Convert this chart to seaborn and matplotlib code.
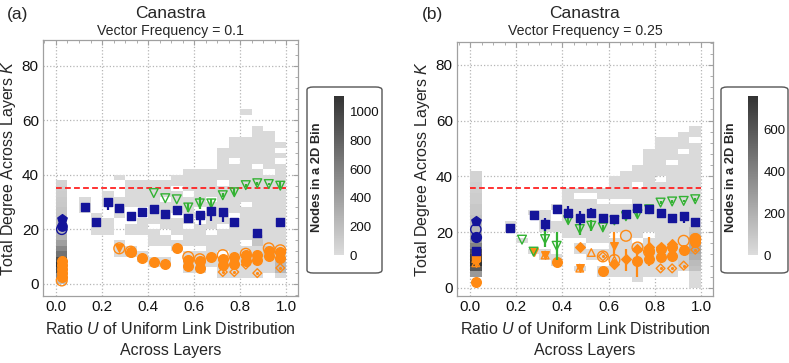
import numpy as np
import matplotlib
matplotlib.use("Agg")
import matplotlib.pyplot as plt
import seaborn as sns
from matplotlib.colors import LinearSegmentedColormap
from matplotlib.patches import FancyBboxPatch
from matplotlib.ticker import MultipleLocator

sns.set_style("white")
plt.rcParams['font.family'] = ['Liberation Sans', 'DejaVu Sans']
plt.rcParams['mathtext.fontset'] = 'custom'
plt.rcParams['mathtext.rm'] = 'Liberation Sans'
plt.rcParams['mathtext.it'] = 'Liberation Sans:italic'

# ------------------------------------------------------------------ data
# ---- panel (a): vector frequency 0.1
A_THRESH = 35.3
A_BLUE_X = [0.125, 0.175, 0.225, 0.275, 0.325, 0.375, 0.425, 0.475, 0.525, 0.575, 0.625, 0.675, 0.725, 0.775, 0.875, 0.975]
A_BLUE_Y = [28.3, 22.8, 30.0, 27.8, 24.7, 26.5, 27.5, 25.7, 26.9, 24.3, 25.2, 26.6, 26.3, 22.5, 18.8, 22.5]
A_BLUE_LO = [0, 0, 3, 1.5, 1.5, 1.5, 1.5, 2, 1.5, 1.5, 3.5, 3.5, 3.5, 0, 0, 0]
A_BLUE_HI = [0, 0, 1.5, 0.5, 0.5, 1, 0.5, 1, 0.5, 1, 1, 1.5, 1, 0, 0, 0]
A_BLUE0_Y = [23.6, 21.3, 20.0]          # pentagon, filled circle, open circle at U=0.025

A_GREEN_X = [0.425, 0.475, 0.525, 0.575, 0.625, 0.675, 0.725, 0.775, 0.825, 0.875, 0.925, 0.975]
A_GREEN_Y = [33.3, 31.4, 31.0, 28.0, 29.5, 29.5, 32.5, 33.6, 36.2, 36.9, 36.6, 36.0]
A_GREEN_LO = [0, 0, 0, 1.5, 2, 1.5, 0.5, 1, 0.5, 0.5, 0.5, 1]
A_GREEN_HI = [0, 0, 0, 1.5, 2.5, 1.5, 1, 1.5, 0.5, 0.5, 0.5, 1.5]

A_OFILL_X = [0.025, 0.025, 0.025, 0.025, 0.025, 0.325, 0.375, 0.425, 0.475, 0.525, 0.575, 0.575,
             0.625, 0.625, 0.675, 0.725, 0.725, 0.775, 0.775, 0.825, 0.825, 0.875, 0.875, 0.925, 0.925, 0.975, 0.975]
A_OFILL_Y = [2.5, 4.0, 5.5, 7.0, 8.5, 11.5, 9.4, 8.0, 7.3, 13.3, 8.8, 6.5,
             8.2, 5.8, 9.7, 9.2, 6.8, 9.8, 7.2, 10.5, 8.5, 10.5, 8.8, 12.2, 10.2, 11.5, 9.4]
A_OOPEN_X = [0.025, 0.275, 0.325, 0.575, 0.625, 0.725, 0.825, 0.925, 0.975]
A_OOPEN_Y = [1.2, 13.0, 11.8, 9.8, 9.0, 10.5, 11.0, 13.0, 12.3]
A_ODIA_X = [0.725, 0.775, 0.875, 0.975, 0.825]
A_ODIA_Y = [4.3, 4.3, 3.9, 5.8, 7.0]
A_OTRI_X = [0.275]
A_OTRI_Y = [13.0]

A_COL0_COUNTS = [200, 600, 950, 1110, 950, 700, 550, 400, 280, 250, 220, 200, 160, 150, 130, 120, 100, 90, 60]
A_COL0_START = 0
A_HIST_X = [0.125, 0.175, 0.225, 0.275, 0.325, 0.375, 0.425, 0.475, 0.525, 0.575, 0.625, 0.675,
            0.725, 0.775, 0.825, 0.875, 0.925, 0.975]
A_HIST_SEGS = [
    [(26, 32)], [(18, 26)], [(18, 24), (28, 34)], [(10, 16), (24, 32), (38, 40)],
    [(10, 14), (18, 22), (28, 38)], [(8, 12), (18, 24), (28, 38)], [(6, 10), (14, 20), (22, 38)],
    [(6, 10), (14, 18), (20, 38)], [(12, 16), (18, 24), (26, 40)], [(4, 12), (14, 20), (22, 42)],
    [(4, 12), (14, 22), (24, 42)], [(6, 18), (20, 42)], [(2, 10), (12, 50)], [(2, 54)],
    [(2, 54), (62, 64)], [(2, 58)], [(4, 56)], [(2, 52)],
]
A_LIGHT = 14
A_DARK = {(0.875, 14): 150, (0.875, 16): 120, (0.925, 10): 120, (0.925, 12): 120,
          (0.975, 4): 230, (0.975, 6): 230, (0.975, 8): 200, (0.825, 8): 80, (0.775, 6): 60}
A_GAPS = [(0.475, 30), (0.525, 34), (0.575, 32), (0.625, 26), (0.675, 30), (0.725, 20), (0.725, 36),
          (0.775, 24), (0.775, 44), (0.825, 28), (0.875, 42), (0.925, 40), (0.975, 44), (0.975, 48), (0.825, 14)]
A_CBAR_MAX = 1110
A_CBAR_TICKS = [0, 200, 400, 600, 800, 1000]

# ---- panel (b): vector frequency 0.25
B_THRESH = 35.9
B_BLUE_X = [0.025, 0.175, 0.275, 0.325, 0.375, 0.425, 0.475, 0.525, 0.575, 0.625, 0.675, 0.725, 0.775, 0.825, 0.875, 0.925, 0.975]
B_BLUE_Y = [13.3, 21.4, 26.3, 22.9, 28.2, 27.0, 25.0, 27.0, 25.0, 24.6, 26.5, 28.8, 28.2, 26.8, 24.9, 25.8, 23.7]
B_BLUE_LO = [0, 0, 0, 2.5, 0, 2, 2.5, 1.5, 1, 1, 1.5, 0.5, 1, 0.5, 0.5, 2.5, 1]
B_BLUE_HI = [0, 0, 0, 2, 0, 2.5, 2.5, 1.5, 0.5, 0.5, 1, 0.5, 0.5, 0.5, 0.5, 1.5, 0.5]
B_BLUE0_Y = [24.0, 18.1, 21.0]          # pentagon, filled circle, open circle at U=0.025

B_GREEN_X = [0.225, 0.275, 0.325, 0.375, 0.425, 0.475, 0.525, 0.575, 0.625, 0.675, 0.725, 0.775, 0.825, 0.875, 0.925, 0.975]
B_GREEN_Y = [17.3, 13.0, 17.5, 15.1, 24.3, 21.1, 22.3, 21.7, 24.2, 25.7, 26.4, 28.2, 30.6, 31.0, 31.2, 31.8]
B_GREEN_LO = [0, 0, 3, 5, 1, 2, 2, 1, 1, 1, 1, 1, 0.5, 0.5, 0.5, 0.5]
B_GREEN_HI = [0, 0, 5, 5, 1.5, 2, 2, 1, 1, 1, 1, 1, 0.5, 0.5, 0.5, 0.5]

B_OFILL_X = [0.025, 0.375, 0.575, 0.725, 0.775, 0.775, 0.825, 0.825, 0.875, 0.875, 0.925, 0.975, 0.975]
B_OFILL_Y = [2.0, 9.2, 6.2, 9.8, 10.4, 13.2, 11.0, 13.8, 11.5, 14.5, 13.6, 16.5, 18.0]
B_ODIAF_X = [0.475, 0.625, 0.675, 0.725, 0.775, 0.825, 0.875]
B_ODIAF_Y = [14.8, 8.6, 10.4, 14.0, 14.5, 14.5, 15.7]
B_ODOWN_X = [0.275, 0.625, 0.325, 0.475, 0.025, 0.025]
B_ODOWN_Y = [13.0, 15.1, 11.8, 7.1, 10.5, 9.0]
B_OUPO_X = [0.325, 0.475, 0.025, 0.025, 0.525, 0.625]
B_OUPO_Y = [11.8, 7.1, 10.5, 9.0, 12.7, 10.0]
B_OSQ_X = [0.025]
B_OSQ_Y = [11.0]
B_OOPEN_X = [0.575, 0.625, 0.675, 0.725, 0.775, 0.925, 0.975]
B_OOPEN_Y = [11.3, 10.0, 18.7, 14.5, 13.0, 16.9, 17.5]
B_ODIA_X = [0.575, 0.825, 0.875, 0.925, 0.975]
B_ODIA_Y = [11.3, 7.0, 7.0, 8.0, 13.7]
B_OERR_X = [0.625, 0.675, 0.725, 0.775]
B_OERR_Y = [15.1, 10.4, 9.8, 12.0]
B_OERR_LO = [3.6, 4.2, 6.0, 4.0]
B_OERR_HI = [5.0, 3.5, 5.3, 6.1]

B_COL0_COUNTS = [300, 600, 760, 720, 600, 400, 280, 220, 170, 140, 120, 100, 90, 70, 70, 55, 55, 40, 40]
B_COL0_START = 4
B_HIST_X = [0.175, 0.225, 0.275, 0.325, 0.375, 0.425, 0.475, 0.525, 0.575, 0.625, 0.675,
            0.725, 0.775, 0.825, 0.875, 0.925, 0.975]
B_HIST_SEGS = [
    [(20, 24)], [(16, 18)], [(12, 14), (26, 28)], [(10, 14), (20, 28)], [(8, 12), (20, 24), (28, 30)],
    [(18, 36)], [(6, 8), (12, 16), (18, 36)], [(10, 14), (16, 36)], [(4, 8), (10, 14), (16, 36)],
    [(4, 40)], [(4, 42)], [(2, 44)], [(4, 50)], [(4, 54)], [(4, 54)], [(6, 56)], [(0, 58)],
]
B_LIGHT = 9
B_DARK = {(0.975, 10): 200, (0.975, 12): 230, (0.975, 14): 230, (0.975, 16): 200, (0.975, 18): 120,
          (0.975, 20): 100, (0.975, 6): 120, (0.975, 8): 150, (0.925, 8): 60, (0.925, 10): 60,
          (0.925, 12): 60, (0.875, 10): 40}
B_GAPS = [(0.475, 32), (0.525, 32), (0.575, 30), (0.625, 30), (0.675, 30), (0.725, 16), (0.775, 18),
          (0.825, 38), (0.925, 48), (0.975, 52), (0.725, 36), (0.625, 18), (0.875, 44)]
B_CBAR_MAX = 760
B_CBAR_TICKS = [0, 200, 400, 600]

# ------------------------------------------------------------------ style
BLUE = "#14149a"
GREEN = "#33b233"
ORANGE = "#ff8a14"
RED = "#ff2222"
CMAP = LinearSegmentedColormap.from_list("greys_nb", ["#dcdcdc", "#333333"])


def hist_cells(col_x, segs, light, col0, col0_start, dark, gaps):
    hx, hy, hw = [], [], []
    for i, c in enumerate(col0):
        hx.append(0.025)
        hy.append(col0_start + 2 * i + 1)
        hw.append(c)
    gset = set(gaps)
    for x, ss in zip(col_x, segs):
        for lo, hi in ss:
            for yb in range(lo, hi, 2):
                if (x, yb) in gset:
                    continue
                hx.append(x)
                hy.append(yb + 1)
                hw.append(dark.get((x, yb), light))
    return hx, hy, hw


def pts(ax, x, y, marker, color, s, filled=True, lw=1.0, z=3):
    if filled:
        sns.scatterplot(x=x, y=y, marker=marker, color=color, s=s, edgecolor=color,
                        linewidth=lw, ax=ax, zorder=z)
    else:
        sns.scatterplot(x=x, y=y, marker=marker, color=color, s=s, facecolor="none",
                        edgecolor=color, linewidth=lw, ax=ax, zorder=z)


def errs(ax, x, y, lo, hi, color, z=3):
    xs, y0, y1 = [], [], []
    for a, b, l, h in zip(x, y, lo, hi):
        if l > 0 or h > 0:
            xs.append(a)
            y0.append(b - l)
            y1.append(b + h)
    if xs:
        ax.vlines(xs, y0, y1, colors=color, linewidth=1.6, zorder=z)


fig = plt.figure(figsize=(7.89, 3.63), dpi=100)
W, H = 789.0, 363.0


def fx(px):
    return px / W


def fy(py):
    return 1 - py / H


def setup_axes(ax, ylim):
    ax.set_xlim(-0.0565, 1.052)
    ax.set_ylim(*ylim)
    ax.set_xticks([0.0, 0.2, 0.4, 0.6, 0.8, 1.0])
    ax.set_xticklabels(["0.0", "0.2", "0.4", "0.6", "0.8", "1.0"])
    ax.set_yticks([0, 20, 40, 60, 80])
    ax.xaxis.set_minor_locator(MultipleLocator(0.05))
    ax.yaxis.set_minor_locator(MultipleLocator(4))
    ax.grid(True, which="major", linestyle=":", color="#b5b5b5", linewidth=0.9)
    ax.set_axisbelow(True)
    ax.tick_params(which="both", direction="in", top=True, right=True, colors="#a0a0a0",
                   labelcolor="#111111", labelsize=11)
    ax.tick_params(which="major", length=3.5, width=0.8, pad=3)
    ax.tick_params(which="minor", length=2, width=0.6)
    for sp in ax.spines.values():
        sp.set_color("#a0a0a0")
        sp.set_linewidth(0.9)
    ax.set_xlabel("Ratio $U$ of Uniform Link Distribution\nAcross Layers", fontsize=11.5,
                  linespacing=1.5, labelpad=5)
    ax.set_ylabel("Total Degree Across Layers $K$", fontsize=11.5, labelpad=3)


def draw_panel(ax, cax, cells, vmax, ticks, thresh):
    hx, hy, hw = cells
    sns.histplot(x=hx, y=hy, weights=hw, binwidth=(0.05, 2), binrange=((0, 1), (0, 66)),
                 cmap=CMAP, vmin=0, vmax=vmax, cbar=True, cbar_ax=cax,
                 cbar_kws=dict(ticks=ticks), ax=ax, zorder=1)
    ax.hlines(thresh, 0, 1, colors=RED, linestyles=(0, (3.2, 1.8)), linewidth=1.3, zorder=2)
    cb = ax.collections[0].colorbar
    cb.outline.set_visible(False)
    cax.tick_params(labelsize=9.5, length=0, pad=4, labelcolor="#111111")


# ---------------- colorbar frames (drawn beneath everything else)
for x0, x1 in [(307, 382), (721, 788)]:
    box = FancyBboxPatch((fx(x0), fy(273)), fx(x1 - x0), (273 - 87) / H,
                         boxstyle="round,pad=0,rounding_size=0.008", transform=fig.transFigure,
                         facecolor="white", edgecolor="#555555", linewidth=1.0, zorder=-5)
    fig.patches.append(box)

# ---------------- panel (a)
ax_a = fig.add_axes([fx(43), fy(296), fx(298 - 43), (296 - 40) / H])
cax_a = fig.add_axes([fx(334), fy(255), fx(10), 159 / H])
draw_panel(ax_a, cax_a, hist_cells(A_HIST_X, A_HIST_SEGS, A_LIGHT, A_COL0_COUNTS, A_COL0_START, A_DARK, A_GAPS),
           A_CBAR_MAX, A_CBAR_TICKS, A_THRESH)
errs(ax_a, A_GREEN_X, A_GREEN_Y, A_GREEN_LO, A_GREEN_HI, GREEN, z=4)
errs(ax_a, A_BLUE_X, A_BLUE_Y, A_BLUE_LO, A_BLUE_HI, BLUE, z=5)
pts(ax_a, A_OFILL_X, A_OFILL_Y, "o", ORANGE, 48)
pts(ax_a, A_OOPEN_X, A_OOPEN_Y, "o", ORANGE, 60, filled=False)
pts(ax_a, A_ODIA_X, A_ODIA_Y, "D", ORANGE, 20, filled=False)
pts(ax_a, A_ODIA_X, A_ODIA_Y, ".", ORANGE, 6)
pts(ax_a, A_OTRI_X, A_OTRI_Y, "v", ORANGE, 30)
pts(ax_a, A_GREEN_X, A_GREEN_Y, "v", GREEN, 40, filled=False, z=4)
pts(ax_a, A_BLUE_X, A_BLUE_Y, "s", BLUE, 28, z=5)
pts(ax_a, [0.025], A_BLUE0_Y[:1], "p", BLUE, 50, z=5)
pts(ax_a, [0.025], A_BLUE0_Y[1:2], "o", BLUE, 45, z=5)
pts(ax_a, [0.025], A_BLUE0_Y[2:3], "o", BLUE, 55, filled=False, z=5)
setup_axes(ax_a, (-4.5, 89.5))

# ---------------- panel (b)
ax_b = fig.add_axes([fx(457), fy(296), fx(713 - 457), (296 - 42) / H])
cax_b = fig.add_axes([fx(748), fy(255), fx(10), 159 / H])
draw_panel(ax_b, cax_b, hist_cells(B_HIST_X, B_HIST_SEGS, B_LIGHT, B_COL0_COUNTS, B_COL0_START, B_DARK, B_GAPS),
           B_CBAR_MAX, B_CBAR_TICKS, B_THRESH)
errs(ax_b, B_OERR_X, B_OERR_Y, B_OERR_LO, B_OERR_HI, ORANGE, z=3)
errs(ax_b, B_GREEN_X, B_GREEN_Y, B_GREEN_LO, B_GREEN_HI, GREEN, z=4)
errs(ax_b, B_BLUE_X, B_BLUE_Y, B_BLUE_LO, B_BLUE_HI, BLUE, z=5)
pts(ax_b, B_OFILL_X, B_OFILL_Y, "o", ORANGE, 48)
pts(ax_b, B_ODIAF_X, B_ODIAF_Y, "D", ORANGE, 24)
pts(ax_b, B_ODOWN_X, B_ODOWN_Y, "v", ORANGE, 30)
pts(ax_b, B_OUPO_X, B_OUPO_Y, "^", ORANGE, 30, filled=False)
pts(ax_b, B_OSQ_X, B_OSQ_Y, "s", ORANGE, 28)
pts(ax_b, B_OOPEN_X, B_OOPEN_Y, "o", ORANGE, 60, filled=False)
pts(ax_b, B_ODIA_X, B_ODIA_Y, "D", ORANGE, 20, filled=False)
pts(ax_b, B_ODIA_X, B_ODIA_Y, ".", ORANGE, 6)
pts(ax_b, B_GREEN_X, B_GREEN_Y, "v", GREEN, 40, filled=False, z=4)
pts(ax_b, B_BLUE_X, B_BLUE_Y, "s", BLUE, 28, z=5)
pts(ax_b, [0.025], B_BLUE0_Y[:1], "p", BLUE, 50, z=5)
pts(ax_b, [0.025], B_BLUE0_Y[1:2], "o", BLUE, 50, z=5)
pts(ax_b, [0.025], B_BLUE0_Y[2:3], "o", BLUE, 55, filled=False, z=5)
setup_axes(ax_b, (-2.9, 88.2))

# ---------------- colorbar labels
for lx in [317, 731]:
    fig.text(fx(lx), fy(177), "Nodes in a 2D Bin", rotation=90, fontsize=9.3, fontweight="bold",
             ha="center", va="center")

# ---------------- titles
for cx, tag, tx, sub in [(170.5, "(a)", 17.5, "Vector Frequency = 0.1"),
                         (585, "(b)", 433, "Vector Frequency = 0.25")]:
    fig.text(fx(tx), fy(14), tag, fontsize=12.5, ha="center", va="center")
    fig.text(fx(cx), fy(13.5), "Canastra", fontsize=12.5, ha="center", va="center")
    fig.text(fx(cx), fy(31), sub, fontsize=10.2, ha="center", va="center")

fig.savefig("out.png", dpi=100)
